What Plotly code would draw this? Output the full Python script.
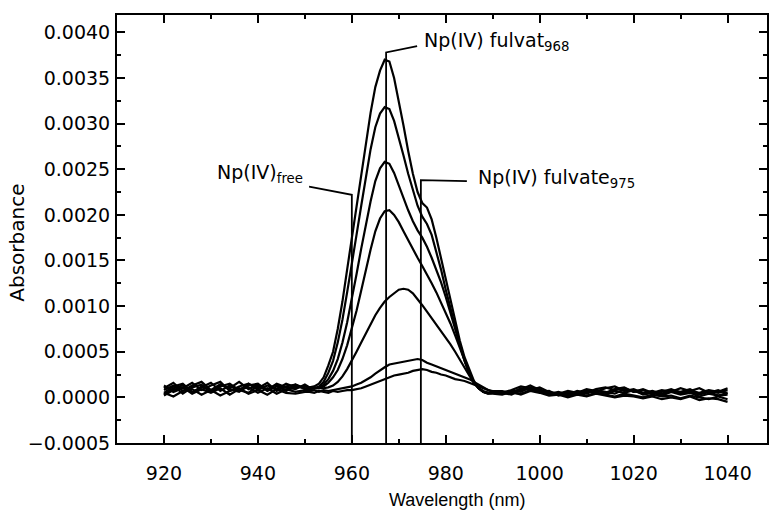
import plotly.graph_objects as go

# wavelength grids (nm)
wl_left = list(range(920, 951, 2))      # 920..950
wl_peak = list(range(951, 991, 1))      # 951..990
wl_right = list(range(992, 1041, 2))    # 992..1040

# absorbance, baseline left part (920..950)
c1_left = [0.00010,0.00016,0.00007,0.00013,0.00017,0.00008,0.00014,0.00010,0.00017,0.00009,0.00014,0.00008,0.00015,0.00011,0.00009,0.00014]
c2_left = [0.00005,0.00012,0.00015,0.00006,0.00011,0.00016,0.00007,0.00013,0.00008,0.00015,0.00010,0.00016,0.00007,0.00012,0.00014,0.00009]
c3_left = [0.00013,0.00006,0.00010,0.00016,0.00008,0.00013,0.00017,0.00007,0.00012,0.00015,0.00008,0.00013,0.00009,0.00015,0.00011,0.00012]
c4_left = [0.00003,0.00010,0.00013,0.00005,0.00012,0.00007,0.00014,0.00009,0.00006,0.00013,0.00015,0.00007,0.00012,0.00008,0.00014,0.00010]
c5_left = [0.00008,0.00013,0.00004,0.00011,0.00014,0.00006,0.00012,0.00015,0.00008,0.00005,0.00013,0.00009,0.00014,0.00007,0.00012,0.00010]
c6_left = [0.00002,0.00008,0.00011,0.00004,0.00009,0.00005,0.00010,0.00003,0.00009,0.00011,0.00005,0.00010,0.00004,0.00009,0.00006,0.00008]
c7_left = [0.00005,0.00001,0.00007,0.00009,0.00003,0.00008,0.00002,0.00007,0.00010,0.00004,0.00008,0.00003,0.00009,0.00005,0.00004,0.00006]

# absorbance, band region (951..990)
c1_peak = [0.00011,0.00012,0.00015,0.00022,0.00035,0.00050,0.00075,0.00105,0.00140,0.00175,
           0.00210,0.00245,0.00280,0.00312,0.00340,0.00358,0.00370,0.00368,0.00350,0.00325,
           0.00298,0.00270,0.00245,0.00225,0.00213,0.00208,0.00195,0.00175,0.00152,0.00128,
           0.00105,0.00083,0.00062,0.00044,0.00030,0.00018,0.00010,0.00006,0.00004,0.00005]
c2_peak = [0.00009,0.00010,0.00012,0.00017,0.00027,0.00040,0.00060,0.00085,0.00115,0.00145,
           0.00178,0.00210,0.00242,0.00272,0.00296,0.00311,0.00318,0.00316,0.00303,0.00285,
           0.00265,0.00245,0.00226,0.00210,0.00198,0.00190,0.00178,0.00160,0.00140,0.00118,
           0.00097,0.00077,0.00058,0.00041,0.00027,0.00016,0.00010,0.00006,0.00004,0.00004]
c3_peak = [0.00011,0.00010,0.00011,0.00014,0.00020,0.00029,0.00042,0.00060,0.00082,0.00107,
           0.00135,0.00163,0.00190,0.00215,0.00237,0.00251,0.00258,0.00256,0.00246,0.00232,
           0.00218,0.00205,0.00193,0.00183,0.00175,0.00165,0.00153,0.00140,0.00126,0.00110,
           0.00093,0.00075,0.00057,0.00040,0.00026,0.00016,0.00010,0.00006,0.00005,0.00005]
c4_peak = [0.00009,0.00010,0.00010,0.00012,0.00016,0.00022,0.00030,0.00042,0.00057,0.00075,
           0.00095,0.00117,0.00140,0.00162,0.00182,0.00196,0.00204,0.00205,0.00200,0.00192,
           0.00182,0.00172,0.00162,0.00153,0.00144,0.00135,0.00125,0.00115,0.00104,0.00093,
           0.00081,0.00068,0.00054,0.00040,0.00027,0.00017,0.00010,0.00006,0.00005,0.00005]
c5_peak = [0.00010,0.00010,0.00010,0.00010,0.00011,0.00013,0.00017,0.00023,0.00031,0.00040,
           0.00050,0.00060,0.00070,0.00080,0.00090,0.00098,0.00105,0.00110,0.00114,0.00118,
           0.00119,0.00118,0.00114,0.00108,0.00101,0.00094,0.00087,0.00080,0.00073,0.00066,
           0.00058,0.00050,0.00041,0.00032,0.00024,0.00016,0.00010,0.00007,0.00005,0.00005]
c6_peak = [0.00007,0.00008,0.00006,0.00008,0.00007,0.00008,0.00009,0.00010,0.00011,0.00012,
           0.00014,0.00016,0.00019,0.00022,0.00026,0.00030,0.00033,0.00036,0.00037,0.00038,
           0.00039,0.00040,0.00041,0.00042,0.00041,0.00038,0.00036,0.00034,0.00032,0.00030,
           0.00028,0.00026,0.00024,0.00022,0.00020,0.00017,0.00014,0.00011,0.00008,0.00007]
c7_peak = [0.00006,0.00005,0.00007,0.00006,0.00005,0.00007,0.00006,0.00007,0.00008,0.00008,
           0.00009,0.00010,0.00012,0.00014,0.00016,0.00018,0.00020,0.00022,0.00024,0.00025,
           0.00026,0.00027,0.00029,0.00030,0.00031,0.00030,0.00028,0.00027,0.00025,0.00024,
           0.00022,0.00020,0.00019,0.00018,0.00016,0.00014,0.00012,0.00010,0.00008,0.00006]

# absorbance, baseline right part (992..1040)
c1_right = [0.00005,0.00008,0.00012,0.00010,0.00007,0.00004,0.00006,0.00003,0.00007,0.00005,0.00009,0.00011,0.00008,0.00010,0.00006,0.00009,0.00005,0.00008,0.00006,0.00010,0.00007,0.00005,0.00008,0.00006,0.00010]
c2_right = [0.00003,0.00006,0.00009,0.00013,0.00008,0.00005,0.00003,0.00006,0.00004,0.00008,0.00006,0.00010,0.00012,0.00007,0.00009,0.00005,0.00007,0.00004,0.00008,0.00006,0.00009,0.00004,0.00007,0.00005,0.00008]
c3_right = [0.00006,0.00004,0.00010,0.00008,0.00011,0.00006,0.00004,0.00007,0.00005,0.00009,0.00007,0.00005,0.00009,0.00011,0.00006,0.00008,0.00004,0.00006,0.00009,0.00005,0.00007,0.00010,0.00005,0.00008,0.00004]
c4_right = [0.00004,0.00007,0.00006,0.00011,0.00009,0.00003,0.00005,0.00002,0.00006,0.00004,0.00008,0.00006,0.00004,0.00009,0.00007,0.00004,0.00006,0.00003,0.00007,0.00004,0.00006,0.00003,0.00006,0.00002,0.00005]
c5_right = [0.00005,0.00003,0.00008,0.00010,0.00006,0.00007,0.00002,0.00005,0.00003,0.00007,0.00005,0.00003,0.00007,0.00005,0.00008,0.00003,0.00005,0.00002,0.00006,0.00003,0.00005,0.00001,0.00004,0.00002,0.00003]
c6_right = [0.00007,0.00005,0.00004,0.00008,0.00006,0.00003,0.00004,0.00001,0.00004,0.00002,0.00005,0.00003,0.00001,0.00004,0.00002,0.00000,0.00003,0.00001,0.00002,-0.00001,0.00002,0.00000,-0.00002,0.00001,-0.00002]
c7_right = [0.00005,0.00006,0.00003,0.00007,0.00005,0.00002,0.00003,0.00000,0.00003,0.00001,0.00004,0.00002,0.00000,0.00002,0.00001,-0.00001,0.00001,-0.00002,0.00000,-0.00002,0.00001,-0.00003,-0.00001,-0.00002,-0.00005]

curves = [
    (c1_left, c1_peak, c1_right),
    (c2_left, c2_peak, c2_right),
    (c3_left, c3_peak, c3_right),
    (c4_left, c4_peak, c4_right),
    (c5_left, c5_peak, c5_right),
    (c6_left, c6_peak, c6_right),
    (c7_left, c7_peak, c7_right),
]

# band markers: wavelength, top of vertical line, leader end (x, y), label
mark_wl = [960, 967.3, 974.7]
mark_top = [0.00222, 0.00378, 0.00238]
lead_x = [950.9, 973.9, 984.5]
lead_y = [0.00231, 0.00385, 0.00237]
labels = ["Np(IV)<sub>free</sub>", "Np(IV) fulvat<sub>968</sub>", "Np(IV) fulvate<sub>975</sub>"]
label_x = [950.0, 975.0, 986.5]
label_y = [0.00245, 0.00390, 0.00240]
label_anchor = ["right", "left", "left"]

y_bottom = -0.0005

FONT = "DejaVu Sans"
fig = go.Figure()
wl = wl_left + wl_peak + wl_right
for l, p, r in curves:
    fig.add_trace(go.Scatter(x=wl, y=l + p + r, mode="lines",
                             line=dict(color="black", width=2.2), showlegend=False))

for i in range(3):
    fig.add_trace(go.Scatter(x=[mark_wl[i], mark_wl[i], lead_x[i]],
                             y=[y_bottom, mark_top[i], lead_y[i]],
                             mode="lines", line=dict(color="black", width=1.8),
                             showlegend=False))
    fig.add_annotation(x=label_x[i], y=label_y[i], xref="x", yref="y",
                       text=labels[i], showarrow=False, xanchor=label_anchor[i],
                       yanchor="middle", font=dict(family=FONT, size=19, color="black"))

axis_common = dict(showline=True, linecolor="black", linewidth=2, mirror="ticks",
                   ticks="inside", ticklen=8, tickwidth=2, tickcolor="black",
                   showgrid=False, zeroline=False,
                   tickfont=dict(family=FONT, size=19, color="black"))

fig.update_xaxes(range=[910, 1048.4], tickvals=[920, 940, 960, 980, 1000, 1020, 1040],
                 minor=dict(ticks="inside", ticklen=4, tickwidth=2, tickcolor="black",
                            dtick=10, tick0=910, showgrid=False),
                 ticklabelstandoff=12, **axis_common)
fig.update_yaxes(range=[-0.0005, 0.00419], tickformat=".4f", dtick=0.0005, tick0=0,
                 minor=dict(ticks="inside", ticklen=4, tickwidth=2, tickcolor="black",
                            dtick=0.00025, tick0=0, showgrid=False),
                 ticklabelstandoff=1, **axis_common)

fig.add_annotation(x=-0.153, y=0.467, xref="paper", yref="paper", text="Absorbance",
                   showarrow=False, textangle=-90, xanchor="center", yanchor="middle",
                   font=dict(family=FONT, size=20, color="black"))
fig.add_annotation(x=0.523, y=-0.133, xref="paper", yref="paper", text="Wavelength (nm)",
                   showarrow=False, xanchor="center", yanchor="middle",
                   font=dict(family="Liberation Sans", size=18, color="black"))

fig.update_layout(width=770, height=511, margin=dict(l=117, r=1, t=15, b=68),
                  plot_bgcolor="white", paper_bgcolor="white")

fig.write_html("out.html")
